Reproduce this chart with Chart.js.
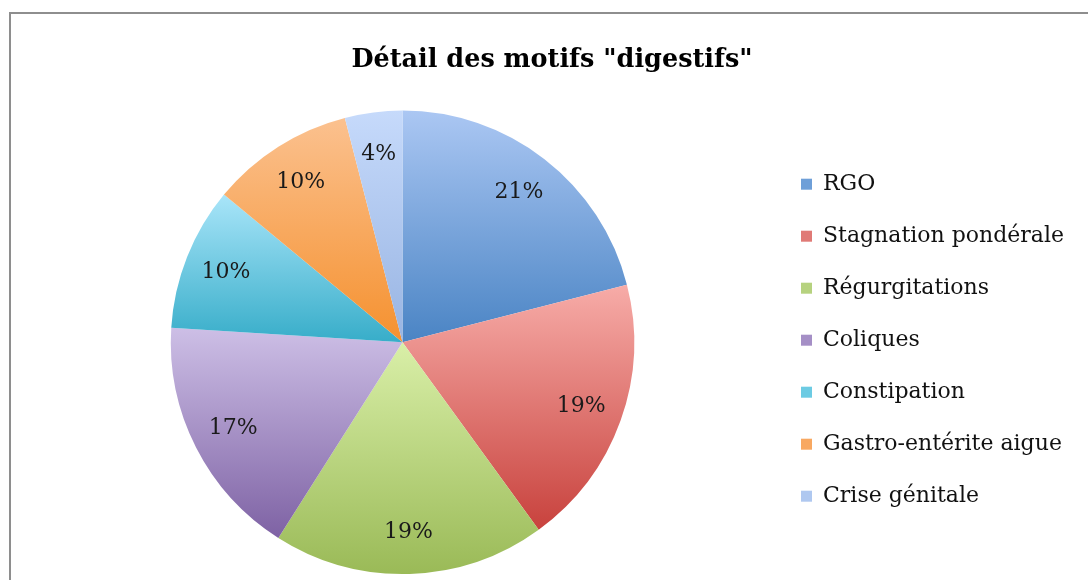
<!DOCTYPE html>
<html>
<head>
<meta charset="utf-8">
<script src="https://cdn.jsdelivr.net/npm/chart.js@4/dist/chart.umd.min.js"></script>
<style>
  html, body { margin: 0; padding: 0; background: #fff; }
  #wrap { position: relative; width: 1088px; height: 580px; overflow: hidden; }
  #frame { position: absolute; left: 9px; top: 12px; width: 1200px; height: 700px; border: 2px solid #8e8e8e; box-sizing: border-box; }
  #chart { position: absolute; left: 0; top: 0; }
</style>
</head>
<body>
<div id="wrap">
  <div id="frame"></div>
  <canvas id="chart" width="1088" height="580"></canvas>
</div>
<script>
const categories = ['RGO', 'Stagnation pondérale', 'Régurgitations', 'Coliques', 'Constipation', 'Gastro-entérite aigue', 'Crise génitale'];
const values = [21, 19, 19, 17, 10, 10, 4];
const topColors = ['#abc7f3', '#f7aca8', '#d9efa8', '#cdbfe6', '#a9e5f9', '#fbc18f', '#c6dafb'];
const bottomColors = ['#4a84c4', '#c8423d', '#9aba57', '#7e62a4', '#37adc9', '#f5912f', '#98b4e2'];
const legendColors = ['#6e9fd8', '#e07a76', '#b6d27f', '#a58fc6', '#6ccbe3', '#f8a861', '#afc8f0'];

const serif = '"DejaVu Serif", serif';

// dégradé vertical par part, calé sur la hauteur de la part
function sliceGradient(context) {
    const chart = context.chart;
    const area = chart.chartArea;
    const i = context.dataIndex;
    if (!area) return legendColors[i];
    const cx = (area.left + area.right) / 2;
    const cy = (area.top + area.bottom) / 2;
    const r = Math.min(area.right - area.left, area.bottom - area.top) / 2;
    const total = values.reduce((a, b) => a + b, 0);
    let before = 0;
    for (let k = 0; k < i; k++) before += values[k];
    const start = -Math.PI / 2 + 2 * Math.PI * before / total;
    const end = start + 2 * Math.PI * values[i] / total;
    let ymin = Math.min(cy, cy + r * Math.sin(start), cy + r * Math.sin(end));
    let ymax = Math.max(cy, cy + r * Math.sin(start), cy + r * Math.sin(end));
    if (start < Math.PI / 2 && end > Math.PI / 2) ymax = cy + r;
    const g = chart.ctx.createLinearGradient(0, ymin, 0, ymax);
    g.addColorStop(0, topColors[i]);
    g.addColorStop(1, bottomColors[i]);
    return g;
}

const legendWidth = {
    id: 'legendWidth',
    beforeInit(chart) {
        const fit = chart.legend.fit;
        chart.legend.fit = function () {
            fit.call(this);
            this.width = 299;
        };
    }
};

const pctLabels = {
    id: 'pctLabels',
    afterDatasetsDraw(chart) {
        const ctx = chart.ctx;
        const meta = chart.getDatasetMeta(0);
        ctx.save();
        ctx.font = '22px ' + serif;
        ctx.fillStyle = '#1a1a1a';
        ctx.textAlign = 'center';
        ctx.textBaseline = 'middle';
        meta.data.forEach((arc, i) => {
            const p = arc.getProps(['x', 'y', 'startAngle', 'endAngle', 'outerRadius'], true);
            const mid = (p.startAngle + p.endAngle) / 2;
            const r = p.outerRadius * 0.82;
            ctx.fillText(values[i] + '%', p.x + Math.cos(mid) * r, p.y + Math.sin(mid) * r);
        });
        ctx.restore();
    }
};

new Chart(document.getElementById('chart'), {
    type: 'pie',
    data: {
        labels: categories,
        datasets: [{
            data: values,
            backgroundColor: sliceGradient,
            borderWidth: 0
        }]
    },
    options: {
        responsive: false,
        devicePixelRatio: 1,
        animation: false,
        events: [],
        layout: { padding: { left: 34, right: 18, top: 0, bottom: 6 } },
        plugins: {
            title: {
                display: true,
                text: 'Détail des motifs "digestifs"',
                color: '#000',
                font: { family: serif, size: 25.5, weight: 'bold', lineHeight: 1.2 },
                padding: { top: 45, bottom: 35 }
            },
            legend: {
                position: 'right',
                // titre vide : sert juste à descendre la légende
                title: { display: true, text: '', font: { size: 12 }, padding: { top: 92, bottom: 0 } },
                labels: {
                    color: '#111',
                    font: { family: serif, size: 22 },
                    boxWidth: 11,
                    boxHeight: 11,
                    padding: 30,
                    generateLabels(chart) {
                        const items = Chart.overrides.pie.plugins.legend.labels.generateLabels(chart);
                        items.forEach((it, i) => {
                            it.fillStyle = legendColors[i];
                            it.strokeStyle = legendColors[i];
                            it.lineWidth = 0;
                        });
                        return items;
                    }
                }
            },
            tooltip: { enabled: false }
        }
    },
    plugins: [legendWidth, pctLabels]
});
</script>
</body>
</html>
